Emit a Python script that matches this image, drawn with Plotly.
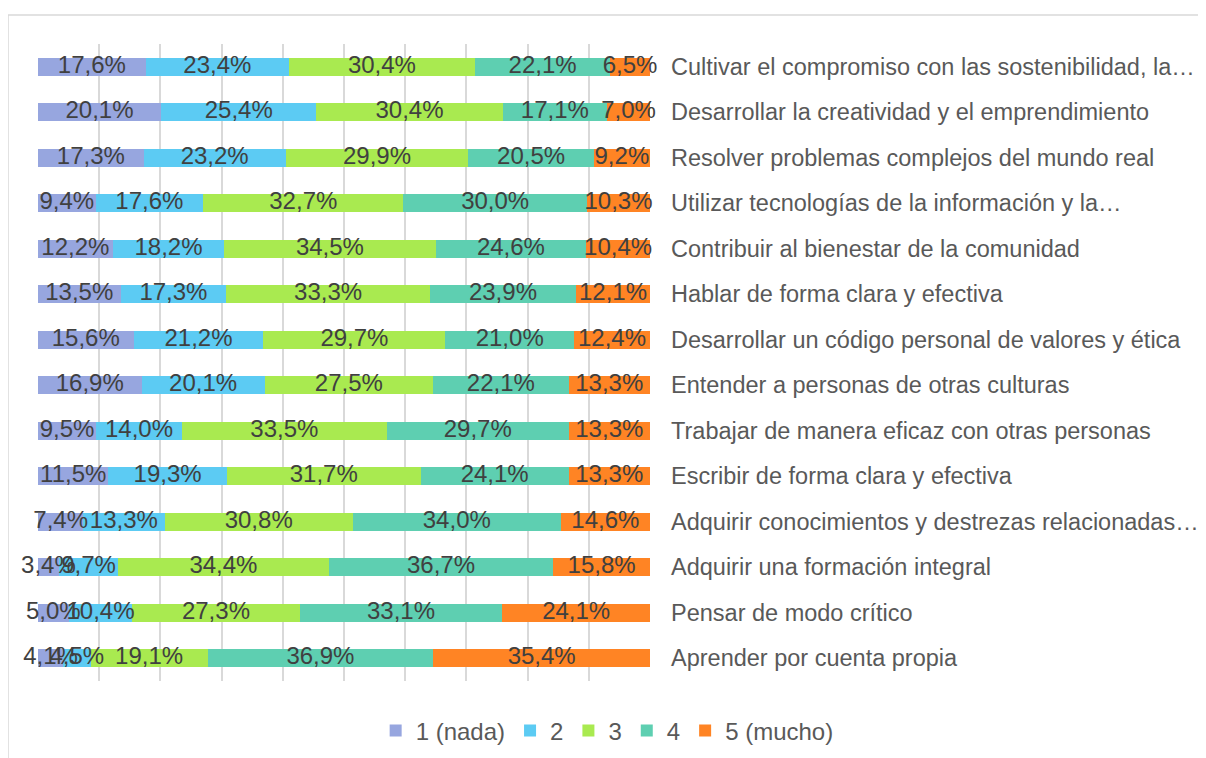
import plotly.graph_objects as go
import numpy as np

# categorias (de arriba a abajo)
items = [
    "Cultivar el compromiso con las sostenibilidad, la…",
    "Desarrollar la creatividad y el emprendimiento",
    "Resolver problemas complejos del mundo real",
    "Utilizar tecnologías de la información y la…",
    "Contribuir al bienestar de la comunidad",
    "Hablar de forma clara y efectiva",
    "Desarrollar un código personal de valores y ética",
    "Entender a personas de otras culturas",
    "Trabajar de manera eficaz con otras personas",
    "Escribir de forma clara y efectiva",
    "Adquirir conocimientos y destrezas relacionadas…",
    "Adquirir una formación integral",
    "Pensar de modo crítico",
    "Aprender por cuenta propia",
]

nivel_1 = [17.6, 20.1, 17.3, 9.4, 12.2, 13.5, 15.6, 16.9, 9.5, 11.5, 7.4, 3.4, 5.0, 4.1]
nivel_2 = [23.4, 25.4, 23.2, 17.6, 18.2, 17.3, 21.2, 20.1, 14.0, 19.3, 13.3, 9.7, 10.4, 4.5]
nivel_3 = [30.4, 30.4, 29.9, 32.7, 34.5, 33.3, 29.7, 27.5, 33.5, 31.7, 30.8, 34.4, 27.3, 19.1]
nivel_4 = [22.1, 17.1, 20.5, 30.0, 24.6, 23.9, 21.0, 22.1, 29.7, 24.1, 34.0, 36.7, 33.1, 36.9]
nivel_5 = [6.5, 7.0, 9.2, 10.3, 10.4, 12.1, 12.4, 13.3, 13.3, 13.3, 14.6, 15.8, 24.1, 35.4]

series = [
    ("1 (nada)", nivel_1, "#97A6DF"),
    ("2", nivel_2, "#5CCBF3"),
    ("3", nivel_3, "#A9EA50"),
    ("4", nivel_4, "#5ECFB1"),
    ("5 (mucho)", nivel_5, "#FF8424"),
]

FONT = "Liberation Sans, Arial"

fig = go.Figure()
for name, vals, color in series:
    fig.add_trace(go.Bar(
        y=items, x=vals, name=name, orientation="h",
        marker=dict(color=color, line=dict(width=0)),
        hoverinfo="skip",
    ))

# etiquetas de datos encima de todas las barras (centro de cada segmento, 100% apilado)
mat = np.array([s[1] for s in series])
totals = mat.sum(axis=0)
pct = mat / totals * 100
cum = np.cumsum(pct, axis=0)
centers = cum - pct / 2
for i, (name, vals, color) in enumerate(series):
    fig.add_trace(go.Scatter(
        y=items, x=centers[i], mode="text",
        text=[f"{v:.1f}%".replace(".", ",") for v in vals],
        textfont=dict(color="#404040", size=24, family=FONT),
        showlegend=False, cliponaxis=False, hoverinfo="skip",
    ))

fig.update_layout(
    width=1198, height=750,
    barmode="stack", barnorm="percent", bargap=0.6,
    paper_bgcolor="white", plot_bgcolor="white",
    margin=dict(l=30, r=556, t=36, b=77, autoexpand=False),
    font=dict(family=FONT, size=24, color="#595959"),
    showlegend=True,
    legend=dict(orientation="h", x=0.93, xanchor="center", y=-0.0785, yanchor="middle",
                font=dict(size=24, color="#595959"), traceorder="normal", itemwidth=30),
)
fig.update_xaxes(range=[0, 100], dtick=10, showticklabels=False, showgrid=True,
                 gridcolor="#D9D9D9", gridwidth=2, zeroline=False, showline=False)
fig.update_yaxes(type="category", range=[len(items) - 0.5, -0.5], side="right", showgrid=False,
                 ticklabelstandoff=20, automargin=False,
                 tickfont=dict(size=23.5, color="#595959"))

# marco del grafico
fig.add_shape(type="rect", xref="paper", yref="paper",
              x0=-0.049, x1=1.92, y0=-0.13, y1=1.0455,
              line=dict(color="#D9D9D9", width=1.5), layer="below")

fig.write_html("out.html")
